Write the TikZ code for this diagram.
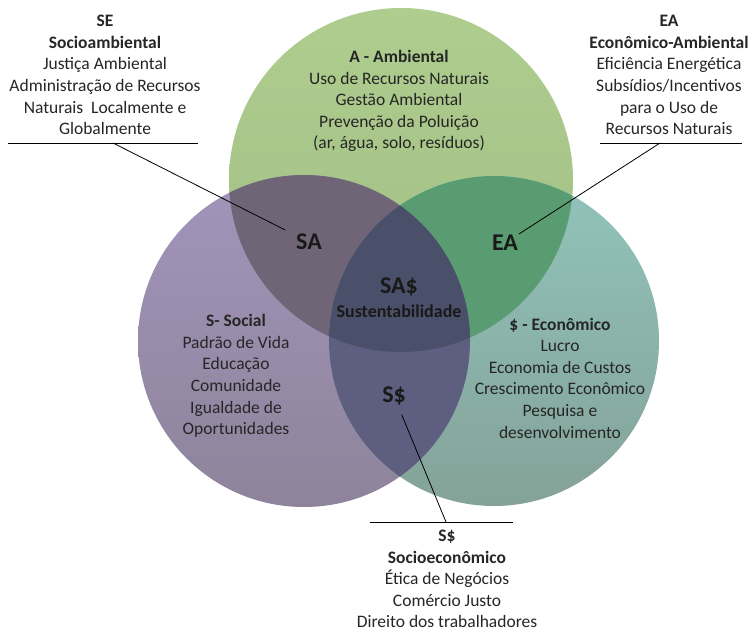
\documentclass[tikz,border=0pt]{standalone}
\usepackage{fontspec}
\setmainfont{Carlito}
\definecolor{cirAtop}{RGB}{174,205,142}
\definecolor{cirAbot}{RGB}{163,190,133}
\definecolor{cirStop}{RGB}{162,148,187}
\definecolor{cirSbot}{RGB}{142,132,154}
\definecolor{cirEtop}{RGB}{145,196,187}
\definecolor{cirEbot}{RGB}{132,162,152}
\definecolor{ovAS}{RGB}{111,101,119}
\definecolor{ovAE}{RGB}{90,156,114}
\definecolor{ovSE}{RGB}{94,95,128}
\definecolor{ovAll}{RGB}{74,80,106}
\begin{document}
\begin{tikzpicture}[x=1pt,y=-1pt,
  txt/.style={align=center, inner sep=0pt, text=black!85, font=\fontsize{17.5}{21.6}\selectfont},
  big/.style={inner sep=0pt, text=black!90, font=\fontsize{24}{28}\selectfont\bfseries},
  leader/.style={black, line width=0.8pt}]
\useasboundingbox (0,0) rectangle (752,632);
\fill[white] (0,0) rectangle (752,632);
% circle centres and radii
\coordinate (cA) at (401,180);
\coordinate (cS) at (304,341);
\coordinate (cE) at (494,341);
\def\rA{172pt}
\def\rS{166pt}
\def\rE{165pt}
% single circles
\shade[top color=cirAtop, bottom color=cirAbot] (cA) circle[radius=\rA];
\shade[top color=cirStop, bottom color=cirSbot] (cS) circle[radius=\rS];
\shade[top color=cirEtop, bottom color=cirEbot] (cE) circle[radius=\rE];
% pairwise overlaps
\begin{scope}
  \clip (cA) circle[radius=\rA];
  \fill[ovAS] (cS) circle[radius=\rS];
  \fill[ovAE] (cE) circle[radius=\rE];
\end{scope}
\begin{scope}
  \clip (cS) circle[radius=\rS];
  \fill[ovSE] (cE) circle[radius=\rE];
  \clip (cE) circle[radius=\rE];
  \fill[ovAll] (cA) circle[radius=\rA];
\end{scope}
% circle texts
\node[txt] (amb) at (399,101) {\textbf{A - Ambiental}\\Uso de Recursos Naturais\\Gestão Ambiental\\Prevenção da Poluição\\(ar, água, solo, resíduos)};
\node[txt] (soc) at (236,376) {\textbf{S- Social}\\Padrão de Vida\\Educação\\Comunidade\\Igualdade de\\Oportunidades};
\node[txt] (eco) at (560,378) {\textbf{\$ - Econômico}\\Lucro\\Economia de Custos\\Crescimento Econômico\\Pesquisa e\\desenvolvimento};
% overlap labels
\node[big] (sa) at (309,242) {SA};
\node[big] (ea) at (505,243) {EA};
\node[big] (sas) at (399,287) {SA\$};
\node[inner sep=0pt, text=black!90, font=\fontsize{18}{20}\selectfont\bfseries] (sust) at (399,311) {Sustentabilidade};
\node[big] (ss) at (394,396) {S\$};
% outer descriptions
\node[txt] (sebox) at (105,75) {\textbf{SE}\\\textbf{Socioambiental}\\Justiça Ambiental\\Administração de Recursos\\Naturais\ \ Localmente e\\Globalmente};
\node[txt] (eabox) at (669,75) {\textbf{EA}\\\textbf{Econômico-Ambiental}\\Eficiência Energética\\Subsídios/Incentivos\\para o Uso de\\Recursos Naturais};
\node[txt] (ssbox) at (447,579) {\textbf{S\$}\\\textbf{Socioeconômico}\\Ética de Negócios\\Comércio Justo\\Direito dos trabalhadores};
% rules under/over the descriptions
\coordinate (seL) at (8,143);   \coordinate (seR) at (198,143);  \coordinate (seK) at (113,143);
\coordinate (eaL) at (600,143); \coordinate (eaR) at (742,143);  \coordinate (eaK) at (660,143);
\coordinate (ssL) at (370,522); \coordinate (ssR) at (513,522);  \coordinate (ssK) at (446,522);
\draw[leader] (seL) -- (seR);
\draw[leader] (eaL) -- (eaR);
\draw[leader] (ssL) -- (ssR);
% leaders to the overlap labels
\draw[leader, shorten >=12pt] (seK) -- (sa);
\draw[leader, shorten >=2pt] (eaK) -- (ea);
\draw[leader, shorten >=10pt] (ssK) -- (ss);
\end{tikzpicture}
\end{document}
